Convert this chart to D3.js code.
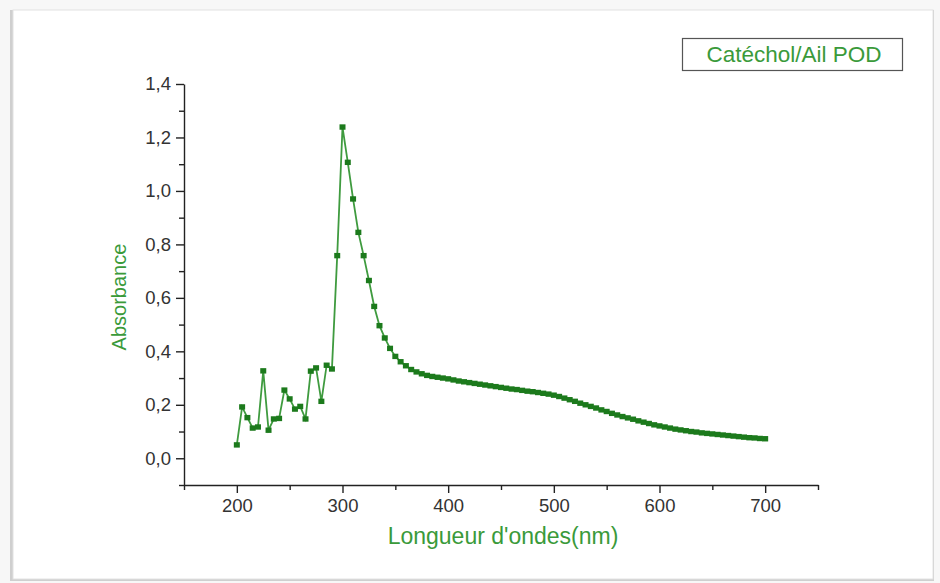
<!DOCTYPE html>
<html>
<head>
<meta charset="utf-8">
<script src="https://cdn.jsdelivr.net/npm/d3@7"></script>
<style>
  html, body { margin: 0; padding: 0; background: #ffffff; }
  svg { display: block; }
  text { font-family: "Liberation Sans", Arial, Helvetica, sans-serif; }
</style>
</head>
<body>
<svg id="chart" width="940" height="583"></svg>
<script>
// UV-visible absorbance spectrum, catechol / garlic peroxidase
const wavelengths = d3.range(200, 701, 5);
const absorbance = [
  0.050, 0.192, 0.152, 0.113, 0.117, 0.327, 0.105, 0.147, 0.149, 0.255,
  0.222, 0.184, 0.194, 0.147, 0.326, 0.338, 0.213, 0.348, 0.334, 0.758,
  1.239, 1.107, 0.970, 0.845, 0.758, 0.665, 0.568, 0.496, 0.450, 0.411,
  0.381, 0.361, 0.346, 0.332, 0.323, 0.316, 0.310, 0.306, 0.303, 0.300,
  0.297, 0.293, 0.289, 0.286, 0.283, 0.280, 0.277, 0.274, 0.271, 0.268,
  0.265, 0.262, 0.259, 0.257, 0.254, 0.251, 0.249, 0.246, 0.243, 0.240,
  0.236, 0.231, 0.225, 0.219, 0.213, 0.206, 0.200, 0.194, 0.188, 0.181,
  0.175, 0.168, 0.162, 0.156, 0.151, 0.146, 0.140, 0.135, 0.130, 0.125,
  0.121, 0.117, 0.113, 0.109, 0.106, 0.103, 0.100, 0.098, 0.095, 0.093,
  0.091, 0.089, 0.087, 0.085, 0.083, 0.081, 0.079, 0.077, 0.076, 0.074,
  0.073
];
const xMajorTicks = [200, 300, 400, 500, 600, 700];
const xMinorTicks = [150, 250, 350, 450, 550, 650, 750];
const yMajorTicks = [0, 0.2, 0.4, 0.6, 0.8, 1.0, 1.2, 1.4];
const yMinorTicks = [-0.1, 0.1, 0.3, 0.5, 0.7, 0.9, 1.1, 1.3];
const seriesName = "Catéchol/Ail POD";
const xTitle = "Longueur d'ondes(nm)";
const yTitle = "Absorbance";

const svg = d3.select("#chart");
const plot = { left: 184, right: 818, top: 84, bottom: 485 };

const x = d3.scaleLinear().domain([150, 750]).range([plot.left, plot.right]);
const y = d3.scaleLinear().domain([-0.1, 1.4]).range([plot.bottom, plot.top]);

const green = "#3a9a3a";
const lineGreen = "#3f9b3f";
const markGreen = "#1c7a1c";
const axisColor = "#222";

// page card with a soft shadow on the left and bottom
svg.append("rect").attr("x", 0).attr("y", 0).attr("width", 940).attr("height", 583).attr("fill", "#f7f7f7");
svg.append("rect").attr("x", 10).attr("y", 10).attr("width", 924).attr("height", 571).attr("fill", "#cfcfcf");
svg.append("rect").attr("x", 13).attr("y", 10).attr("width", 920).attr("height", 569)
  .attr("fill", "#ffffff").attr("stroke", "#e2e2e2").attr("stroke-width", 1);

const fmt = v => d3.format(".1f")(v).replace(".", ",");

// axes: major ticks with labels, minor ticks without
svg.append("g").attr("transform", `translate(0,${plot.bottom})`)
  .call(d3.axisBottom(x).tickValues(xMajorTicks).tickSize(8).tickSizeOuter(0).tickPadding(6).tickFormat(d3.format("d")));
svg.append("g").attr("transform", `translate(0,${plot.bottom})`)
  .call(d3.axisBottom(x).tickValues(xMinorTicks).tickSize(5).tickSizeOuter(0).tickFormat(""))
  .select(".domain").remove();

svg.append("g").attr("transform", `translate(${plot.left},0)`)
  .call(d3.axisLeft(y).tickValues(yMajorTicks).tickSize(8).tickSizeOuter(0).tickPadding(5).tickFormat(fmt));
svg.append("g").attr("transform", `translate(${plot.left},0)`)
  .call(d3.axisLeft(y).tickValues(yMinorTicks).tickSize(5).tickSizeOuter(0).tickFormat(""))
  .select(".domain").remove();

svg.selectAll(".domain, .tick line").attr("stroke", axisColor).attr("stroke-width", 1.4);
svg.selectAll(".tick text")
  .attr("fill", "#333").attr("font-size", 18.5)
  .attr("font-family", "'Liberation Sans', Arial, sans-serif");

// axis titles
svg.append("text")
  .attr("x", 503).attr("y", 544)
  .attr("text-anchor", "middle").attr("font-size", 23).attr("fill", green)
  .text(xTitle);
svg.append("text")
  .attr("transform", `translate(126,${297}) rotate(-90)`)
  .attr("text-anchor", "middle").attr("font-size", 20).attr("fill", green)
  .text(yTitle);

// spectrum line and square markers
const data = wavelengths.map((w, i) => ({ w, a: absorbance[i] }));
svg.append("path").datum(data)
  .attr("fill", "none").attr("stroke", lineGreen).attr("stroke-width", 1.8)
  .attr("d", d3.line().x(d => x(d.w)).y(d => y(d.a)));
svg.append("g").selectAll("rect").data(data).join("rect")
  .attr("x", d => x(d.w) - 3).attr("y", d => y(d.a) - 2.7)
  .attr("width", 6).attr("height", 5.4)
  .attr("fill", markGreen);

// legend
const legend = svg.append("g");
legend.append("rect").attr("x", 682.5).attr("y", 38.5).attr("width", 220).attr("height", 32)
  .attr("fill", "#fff").attr("stroke", "#555").attr("stroke-width", 1.2);
legend.append("text").attr("x", 794).attr("y", 62)
  .attr("text-anchor", "middle").attr("font-size", 22.5).attr("fill", green)
  .text(seriesName);
</script>
</body>
</html>
